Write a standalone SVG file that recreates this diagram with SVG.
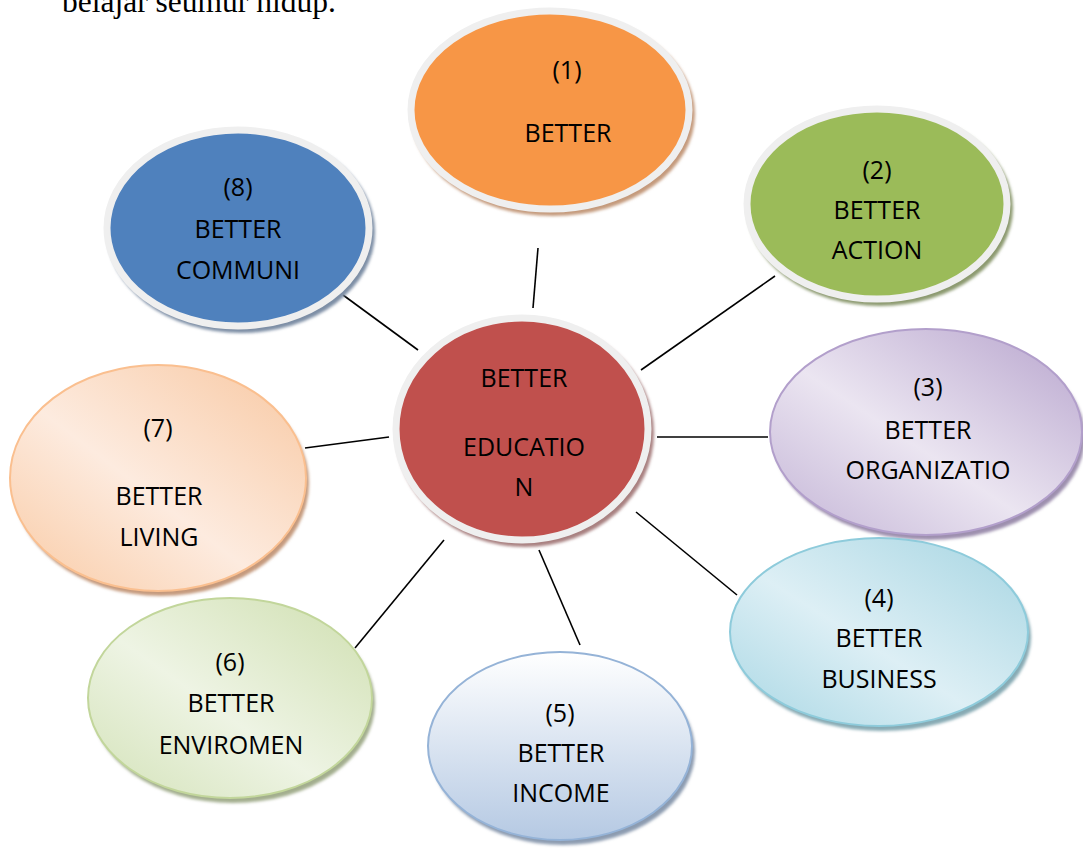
<svg xmlns="http://www.w3.org/2000/svg" width="1083" height="852" viewBox="0 0 1083 852">
<style>
.lbl{font-family:"Open Sans","Noto Sans","Liberation Sans",sans-serif;font-size:25px;fill:#000;text-anchor:middle}
.ring{stroke:#efefef;stroke-width:7}
.conn line{stroke:#000;stroke-width:1.6}
</style>
<defs>
<filter id="sh" x="-10%" y="-10%" width="120%" height="130%"><feGaussianBlur stdDeviation="1.8"/></filter>
<linearGradient id="g3" x1="0" y1="1" x2="1" y2="0"><stop offset="0" stop-color="#c3b4d6"/><stop offset="0.45" stop-color="#ebe5f1"/><stop offset="1" stop-color="#b7a4cd"/></linearGradient>
<linearGradient id="g4" x1="0" y1="1" x2="1" y2="0"><stop offset="0" stop-color="#a9d7e4"/><stop offset="0.45" stop-color="#ddeff5"/><stop offset="1" stop-color="#a6d5e2"/></linearGradient>
<linearGradient id="g5" x1="0" y1="0" x2="0" y2="1"><stop offset="0" stop-color="#ffffff"/><stop offset="1" stop-color="#b5c9e3"/></linearGradient>
<linearGradient id="g6" x1="0" y1="1" x2="1" y2="0"><stop offset="0" stop-color="#d3e2b8"/><stop offset="0.45" stop-color="#eef4e4"/><stop offset="1" stop-color="#cfdfb0"/></linearGradient>
<linearGradient id="g7" x1="0" y1="1" x2="1" y2="0"><stop offset="0" stop-color="#f9caa4"/><stop offset="0.45" stop-color="#fdebdf"/><stop offset="1" stop-color="#f8c8a2"/></linearGradient>
</defs>
<rect width="1083" height="852" fill="#fff"/>
<text x="62" y="12" font-family="'Liberation Serif',serif" font-size="31.5">belajar seumur hidup.</text>

<g id="connectors" class="conn">
<line x1="538" y1="248" x2="533" y2="308"/>
<line x1="775" y1="276" x2="641" y2="370"/>
<line x1="657" y1="437" x2="768" y2="437"/>
<line x1="636" y1="512" x2="737" y2="595"/>
<line x1="539" y1="550" x2="580" y2="645"/>
<line x1="444" y1="540" x2="355" y2="648"/>
<line x1="305" y1="448" x2="389" y2="437"/>
<line x1="343" y1="295" x2="418" y2="350"/>
</g>

<g id="n1">
<ellipse cx="553" cy="114" rx="142" ry="102" fill="#c49a7c" filter="url(#sh)"/>
<ellipse cx="550" cy="110" rx="139" ry="99" fill="#f79646" class="ring"/>
<text class="lbl" x="567" y="79">(1)</text>
<text class="lbl" x="568" y="142">BETTER</text>
</g>

<g id="n2">
<ellipse cx="880" cy="208" rx="133" ry="98" fill="#8c9a70" filter="url(#sh)"/>
<ellipse cx="877" cy="204" rx="130" ry="95" fill="#9bbb59" class="ring"/>
<text class="lbl" x="877" y="179">(2)</text>
<text class="lbl" x="877" y="219">BETTER</text>
<text class="lbl" x="877" y="259">ACTION</text>
</g>

<g id="n8">
<ellipse cx="241" cy="232" rx="134" ry="101" fill="#7d8ea5" filter="url(#sh)"/>
<ellipse cx="238" cy="228" rx="131" ry="98" fill="#4f81bd" class="ring"/>
<text class="lbl" x="238" y="196">(8)</text>
<text class="lbl" x="238" y="238">BETTER</text>
<text class="lbl" x="238" y="279">COMMUNI</text>
</g>

<g id="n0">
<ellipse cx="525" cy="433" rx="129" ry="114" fill="#a88080" filter="url(#sh)"/>
<ellipse cx="522" cy="429" rx="126" ry="111" fill="#c0504d" class="ring"/>
<text class="lbl" x="524" y="387">BETTER</text>
<text class="lbl" x="524" y="456">EDUCATIO</text>
<text class="lbl" x="524" y="496">N</text>
</g>

<g id="n3">
<ellipse cx="929" cy="437" rx="156" ry="103" fill="#9d8fae" filter="url(#sh)"/>
<ellipse cx="926" cy="432" rx="156" ry="103" fill="url(#g3)" stroke="#b29fcb" stroke-width="2"/>
<text class="lbl" x="928" y="396">(3)</text>
<text class="lbl" x="928" y="439">BETTER</text>
<text class="lbl" x="928" y="479">ORGANIZATIO</text>
</g>

<g id="n4">
<ellipse cx="882" cy="637" rx="149" ry="94" fill="#87aab4" filter="url(#sh)"/>
<ellipse cx="879" cy="632" rx="149" ry="94" fill="url(#g4)" stroke="#8ecbdb" stroke-width="2"/>
<text class="lbl" x="879" y="607">(4)</text>
<text class="lbl" x="879" y="647">BETTER</text>
<text class="lbl" x="879" y="688">BUSINESS</text>
</g>

<g id="n5">
<ellipse cx="563" cy="751" rx="132" ry="94" fill="#8c9bb0" filter="url(#sh)"/>
<ellipse cx="560" cy="746" rx="132" ry="94" fill="url(#g5)" stroke="#95b3d7" stroke-width="2"/>
<text class="lbl" x="560" y="722">(5)</text>
<text class="lbl" x="561" y="762">BETTER</text>
<text class="lbl" x="561" y="802">INCOME</text>
</g>

<g id="n6">
<ellipse cx="233" cy="703" rx="142" ry="100" fill="#a3ae8e" filter="url(#sh)"/>
<ellipse cx="230" cy="698" rx="142" ry="100" fill="url(#g6)" stroke="#c2d69b" stroke-width="2"/>
<text class="lbl" x="230" y="671">(6)</text>
<text class="lbl" x="231" y="712">BETTER</text>
<text class="lbl" x="231" y="754">ENVIROMEN</text>
</g>

<g id="n7">
<ellipse cx="161" cy="483" rx="148" ry="113" fill="#c59a7d" filter="url(#sh)"/>
<ellipse cx="158" cy="478" rx="148" ry="113" fill="url(#g7)" stroke="#fabf8f" stroke-width="2"/>
<text class="lbl" x="158" y="437">(7)</text>
<text class="lbl" x="159" y="505">BETTER</text>
<text class="lbl" x="159" y="546">LIVING</text>
</g>
</svg>
